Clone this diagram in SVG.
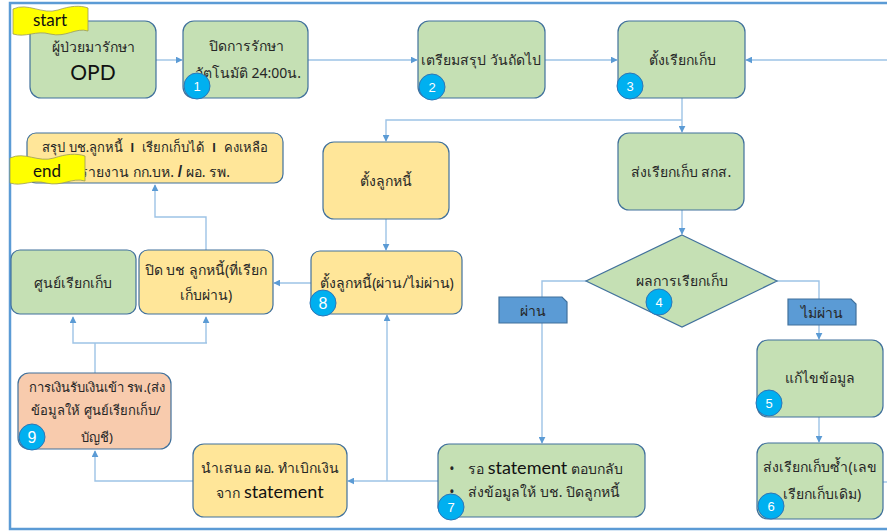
<svg xmlns="http://www.w3.org/2000/svg" width="887" height="532" viewBox="0 0 887 532">
<defs>
<marker id="arr" viewBox="0 0 10 10" refX="9" refY="5" markerWidth="7" markerHeight="7" orient="auto" markerUnits="userSpaceOnUse">
<path d="M0,0 L10,5 L0,10 Z" fill="#5b9bd5"/>
</marker>
<style>
.g{fill:#c5e0b4;stroke:#41719c;stroke-width:1.2}
.y{fill:#ffe699;stroke:#41719c;stroke-width:1.2}
.p{fill:#f8cbad;stroke:#41719c;stroke-width:1.2}
.lb{fill:#5b9bd5;stroke:#41719c;stroke-width:1.2}
.c{fill:none;stroke:#9dc3e6;stroke-width:1.4}
.ca{fill:none;stroke:#9dc3e6;stroke-width:1.4;marker-end:url(#arr)}
.t{font-family:"Noto Sans","DejaVu Sans",Tahoma,sans-serif;font-size:14px;fill:#262626;text-anchor:middle}
.s13{font-size:13px}
.e{font-family:Lato,"Open Sans","Liberation Sans",sans-serif;fill:#111;text-anchor:middle}
.bd circle{fill:#00b0f0;stroke:#2e75b6;stroke-width:1}
.bd text{font-family:"Liberation Sans",Arial,sans-serif;font-size:13px;fill:#fff;text-anchor:middle}
.bd text.big{font-size:16px}
.flag{fill:#ffff00;stroke:#9a9a5a;stroke-width:0.8}
</style>
</defs>
<rect x="0" y="0" width="887" height="532" fill="#ffffff"/>
<path d="M895,3 L10,3 L10,529 L895,529" fill="none" stroke="#5b9bd5" stroke-width="2.5"/>

<g id="connectors">
<path class="ca" d="M156,60 L182,60"/>
<path class="ca" d="M308,60 L417,60"/>
<path class="ca" d="M545,60 L617,60"/>
<path class="ca" d="M900,60 L746,60"/>
<path class="c" d="M682,98 L682,120"/>
<path class="ca" d="M682,120 L682,132"/>
<path class="ca" d="M682,120 L386,120 L386,141"/>
<path class="ca" d="M682,210 L682,234"/>
<path class="ca" d="M386,219 L386,250"/>
<path class="ca" d="M586,281 L542,281 L542,443"/>
<path class="ca" d="M777,281 L819,281 L819,339"/>
<path class="ca" d="M819,417 L819,442"/>
<path class="c" d="M883,482 L900,482"/>
<path class="ca" d="M438,481 L348,481"/>
<path class="ca" d="M387,481 L387,315"/>
<path class="ca" d="M193,481 L95,481 L95,451"/>
<path class="c" d="M95,373 L95,343"/>
<path class="ca" d="M207,343 L73,343 L73,317"/>
<path class="ca" d="M206,343 L206,317"/>
<path class="ca" d="M311,283 L274,283"/>
<path class="ca" d="M206,250 L206,217 L155,217 L155,185"/>
</g>

<g id="opd">
<rect class="g" x="30" y="21" width="126" height="77" rx="11"/>
<text class="t" x="93" y="52">ผู้ป่วยมารักษา</text>
<text class="e" x="93" y="80" font-size="21">OPD</text>
</g>
<g id="start">
<path class="flag" d="M13,9 C28,2 42,15 58,10 C70,6 80,5 88,8 L88,31 C76,27 66,38 50,34 C36,30 26,38 13,34 Z"/>
<text class="e" x="50" y="26" font-size="17">start</text>
</g>

<g id="n1">
<rect class="g" x="183" y="21" width="125" height="77" rx="11"/>
<text class="t" x="246" y="51">ปิดการรักษา</text>
<text class="t" x="248" y="78">อัตโนมัติ 24:00น.</text>
<g class="bd"><circle cx="197" cy="86" r="13"/><text x="197" y="91">1</text></g>
</g>

<g id="n2">
<rect class="g" x="418" y="21" width="127" height="77" rx="11"/>
<text class="t" x="481" y="65">เตรียมสรุป วันถัดไป</text>
<g class="bd"><circle cx="432" cy="87" r="13"/><text x="432" y="92">2</text></g>
</g>

<g id="n3">
<rect class="g" x="618" y="21" width="127" height="77" rx="11"/>
<text class="t" x="682" y="65">ตั้งเรียกเก็บ</text>
<g class="bd"><circle cx="630" cy="86" r="13"/><text x="630" y="91">3</text></g>
</g>

<g id="summary">
<rect class="y" x="27" y="133" width="256" height="50" rx="9"/>
<text class="t s13" x="155" y="152">สรุป บช.ลูกหนี้ <tspan dx="4" font-weight="bold" font-family="Liberation Sans">l</tspan><tspan dx="8">เรียกเก็บได้</tspan><tspan dx="8" font-weight="bold" font-family="Liberation Sans">l</tspan><tspan dx="8">คงเหลือ</tspan></text>
<text class="t" x="155" y="177">รายงาน กก.บห. <tspan font-weight="bold" font-family="Liberation Sans" font-size="16">/</tspan> ผอ. รพ.</text>
</g>
<g id="end">
<path class="flag" d="M10,158 C25,151 38,163 54,158 C66,154 76,153 85,156 L85,181 C72,177 62,187 46,183 C32,179 22,187 10,183 Z"/>
<text class="e" x="47" y="177" font-size="17">end</text>
</g>

<g id="set-debtor">
<rect class="y" x="323" y="142" width="126" height="77" rx="11"/>
<text class="t" x="386" y="186">ตั้งลูกหนี้</text>
</g>

<g id="send-sks">
<rect class="g" x="618" y="133" width="126" height="77" rx="11"/>
<text class="t" x="681" y="177">ส่งเรียกเก็บ สกส.</text>
</g>

<g id="n4">
<path class="g" d="M682,235 L777,281 L682,327 L586,281 Z"/>
<text class="t" x="682" y="286">ผลการเรียกเก็บ</text>
<g class="bd"><circle cx="659" cy="302" r="13"/><text x="659" y="307">4</text></g>
</g>

<g id="center">
<rect class="g" x="11" y="250" width="125" height="64" rx="9"/>
<text class="t" x="73" y="288">ศูนย์เรียกเก็บ</text>
</g>

<g id="close-acc">
<rect class="y" x="139" y="250" width="134" height="64" rx="9"/>
<text class="t" x="206" y="275">ปิด บช ลูกหนี้(ที่เรียก</text>
<text class="t" x="206" y="300">เก็บผ่าน)</text>
</g>

<g id="n8">
<rect class="y" x="311" y="251" width="151" height="63" rx="9"/>
<text class="t" x="387" y="288">ตั้งลูกหนี้(ผ่าน/ไม่ผ่าน)</text>
<g class="bd"><circle cx="323" cy="303" r="13"/><text class="big" x="323" y="309">8</text></g>
</g>

<g id="lbl-pass">
<path class="lb" d="M499,297 L562,297 L567,302 L567,323 L499,323 Z"/>
<text class="t" x="533" y="316">ผ่าน</text>
</g>

<g id="lbl-fail">
<path class="lb" d="M788,299 L851,299 L856,304 L856,325 L788,325 Z"/>
<text class="t" x="822" y="318">ไม่ผ่าน</text>
</g>

<g id="n5">
<rect class="g" x="757" y="340" width="126" height="77" rx="11"/>
<text class="t" x="820" y="383">แก้ไขข้อมูล</text>
<g class="bd"><circle cx="769" cy="403" r="13"/><text x="769" y="408">5</text></g>
</g>

<g id="n6">
<rect class="g" x="757" y="443" width="126" height="76" rx="11"/>
<text class="t" x="820" y="472">ส่งเรียกเก็บซ้ำ(เลข</text>
<text class="t" x="822" y="499">เรียกเก็บเดิม)</text>
<g class="bd"><circle cx="771" cy="506" r="13"/><text x="771" y="511">6</text></g>
</g>

<g id="n7">
<rect class="g" x="438" y="444" width="207" height="73" rx="11"/>
<text class="t" x="452" y="474">•</text>
<text class="t" x="468" y="474" style="text-anchor:start">รอ <tspan font-family="Lato,'Open Sans',sans-serif" font-size="18" fill="#111">statement</tspan> ตอบกลับ</text>
<text class="t" x="452" y="497">•</text>
<text class="t" x="468" y="497" style="text-anchor:start">ส่งข้อมูลให้ บช. ปิดลูกหนี้</text>
<g class="bd"><circle cx="451" cy="507" r="13"/><text x="451" y="512">7</text></g>
</g>

<g id="present">
<rect class="y" x="193" y="444" width="154" height="73" rx="11"/>
<text class="t" x="270" y="473">นำเสนอ ผอ. ทำเบิกเงิน</text>
<text class="t" x="270" y="498">จาก <tspan font-family="Lato,'Open Sans',sans-serif" font-size="18" fill="#111">statement</tspan></text>
</g>

<g id="n9">
<rect class="p" x="18" y="373" width="153" height="76" rx="11"/>
<text class="t s13" x="97" y="392">การเงินรับเงินเข้า รพ.(ส่ง</text>
<text class="t s13" x="96" y="415">ข้อมูลให้ ศูนย์เรียกเก็บ/</text>
<text class="t s13" x="97" y="442">บัญชี)</text>
<g class="bd"><circle cx="32" cy="437" r="13"/><text class="big" x="32" y="443">9</text></g>
</g>
</svg>
